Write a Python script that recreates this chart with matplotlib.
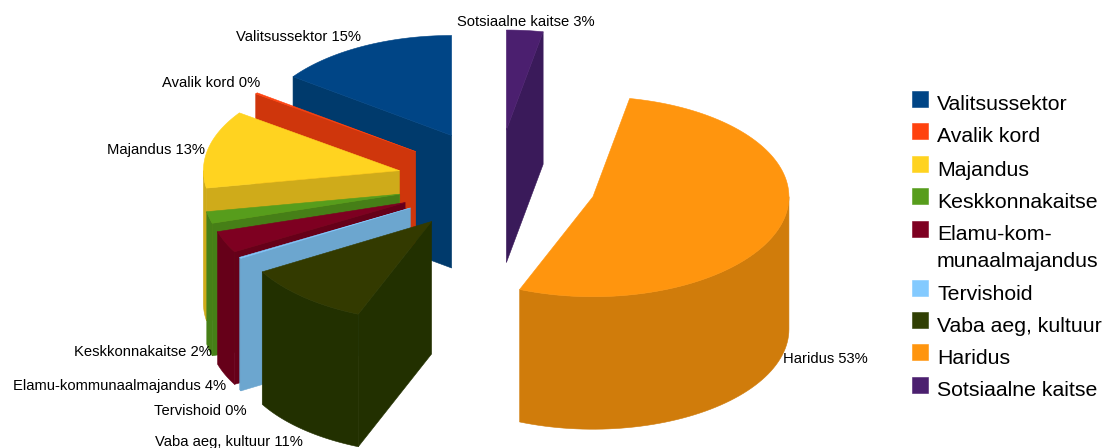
#!/usr/bin/python3
import matplotlib
matplotlib.use("Agg")
import matplotlib.pyplot as plt
import numpy as np
from matplotlib.patches import Polygon, Rectangle

names = ["Valitsussektor", "Avalik kord", "Majandus", "Keskkonnakaitse",
         "Elamu-kommunaalmajandus", "Tervishoid", "Vaba aeg, kultuur",
         "Haridus", "Sotsiaalne kaitse"]
legend_names = ["Valitsussektor", "Avalik kord", "Majandus", "Keskkonnakaitse",
                "Elamu-kom-\nmunaalmajandus", "Tervishoid", "Vaba aeg, kultuur",
                "Haridus", "Sotsiaalne kaitse"]
shares = [15.0, 0.2, 12.6, 1.9, 3.5, 0.2, 10.5, 53.1, 3.0]
pct_labels = ["15%", "0%", "13%", "2%", "4%", "0%", "11%", "53%", "3%"]

top_colors = ["#004586", "#ff420e", "#ffd320", "#579d1c", "#7e0021",
              "#83caff", "#314004", "#ff950e", "#4b1f6f"]
# the drawn slice of this one is a bit more olive than its legend box
slice_colors = list(top_colors)
slice_colors[6] = "#333a00"
side_colors = ["#003a6c", "#cf360c", "#cfab1a", "#467f17", "#660019",
               "#6ca6cf", "#223000", "#d07c0b", "#3a1a5a"]

# pie geometry in pixels, the image is used as the coordinate system
cx, cy = 497.0, 182.0
rx, ry = 196.0, 100.0
depth = 132.5
explode_x, explode_y = 100.0, 52.2

# left edge / vertical centre of each data label
label_pos = [(236, 37), (162, 83), (107, 150), (74, 352), (13, 386),
             (154, 411), (155, 442), (783, 359), (457, 22)]
legend_top = [91, 123, 156, 188, 221, 280, 312, 344, 377]


def arc(x0, y0, t1, t2, n=60):
    t = np.radians(np.linspace(t1, t2, n))
    return np.column_stack([x0 + rx * np.cos(t), y0 - ry * np.sin(t)])


def draw_slice(ax, start, sweep, col, dark):
    end = start + sweep
    mid = np.radians(start + sweep / 2)
    ax0 = cx + explode_x * np.cos(mid)
    ay0 = cy - explode_y * np.sin(mid)
    style = dict(linewidth=0.4, joinstyle="round")

    # cut faces, only those turned to the viewer
    for ang, normal in ((start, start - 90), (end, end + 90)):
        if np.sin(np.radians(normal)) < -1e-6:
            t = np.radians(ang)
            px = ax0 + rx * np.cos(t)
            py = ay0 - ry * np.sin(t)
            pts = [(ax0, ay0), (px, py), (px, py + depth), (ax0, ay0 + depth)]
            ax.add_patch(Polygon(pts, facecolor=dark, edgecolor=dark, **style))

    # outer wall, front half of the ellipse only
    w1, w2 = max(start, 180), min(end, 360)
    if w2 > w1:
        a = arc(ax0, ay0, w1, w2)
        pts = np.vstack([a, (a + [0, depth])[::-1]])
        ax.add_patch(Polygon(pts, facecolor=dark, edgecolor=dark, **style))

    top = np.vstack([[(ax0, ay0)], arc(ax0, ay0, start, end, 120)])
    ax.add_patch(Polygon(top, facecolor=col, edgecolor=col, **style))


fig = plt.figure(figsize=(11.08, 4.48), dpi=100)
ax = fig.add_axes([0, 0, 1, 1])
ax.set_xlim(0, 1108)
ax.set_ylim(448, 0)
ax.axis("off")
plt.rcParams["font.family"] = ["Liberation Sans", "DejaVu Sans"]

angle = 90.0
wedges = []
for s in shares:
    # slices run counter clockwise from the top of the pie
    wedges.append((angle, s * 3.6))
    angle += s * 3.6

for (start, sweep), col, dark in zip(wedges, slice_colors, side_colors):
    draw_slice(ax, start, sweep, col, dark)

for name, pct, (x, y) in zip(names, pct_labels, label_pos):
    ax.text(x, y, f"{name} {pct}", fontsize=10.6, ha="left", va="center", color="black")

for name, col, y in zip(legend_names, top_colors, legend_top):
    ax.add_patch(Rectangle((912, y), 16, 16, facecolor=col, edgecolor=col, linewidth=0.4))
    # one text per line, so that every baseline can be placed
    for i, line in enumerate(name.split("\n")):
        ax.text(937, y + 19.5 + i * 26.5, line, fontsize=15.3, ha="left", va="baseline", color="black")

plt.savefig("out.png", dpi=100)
